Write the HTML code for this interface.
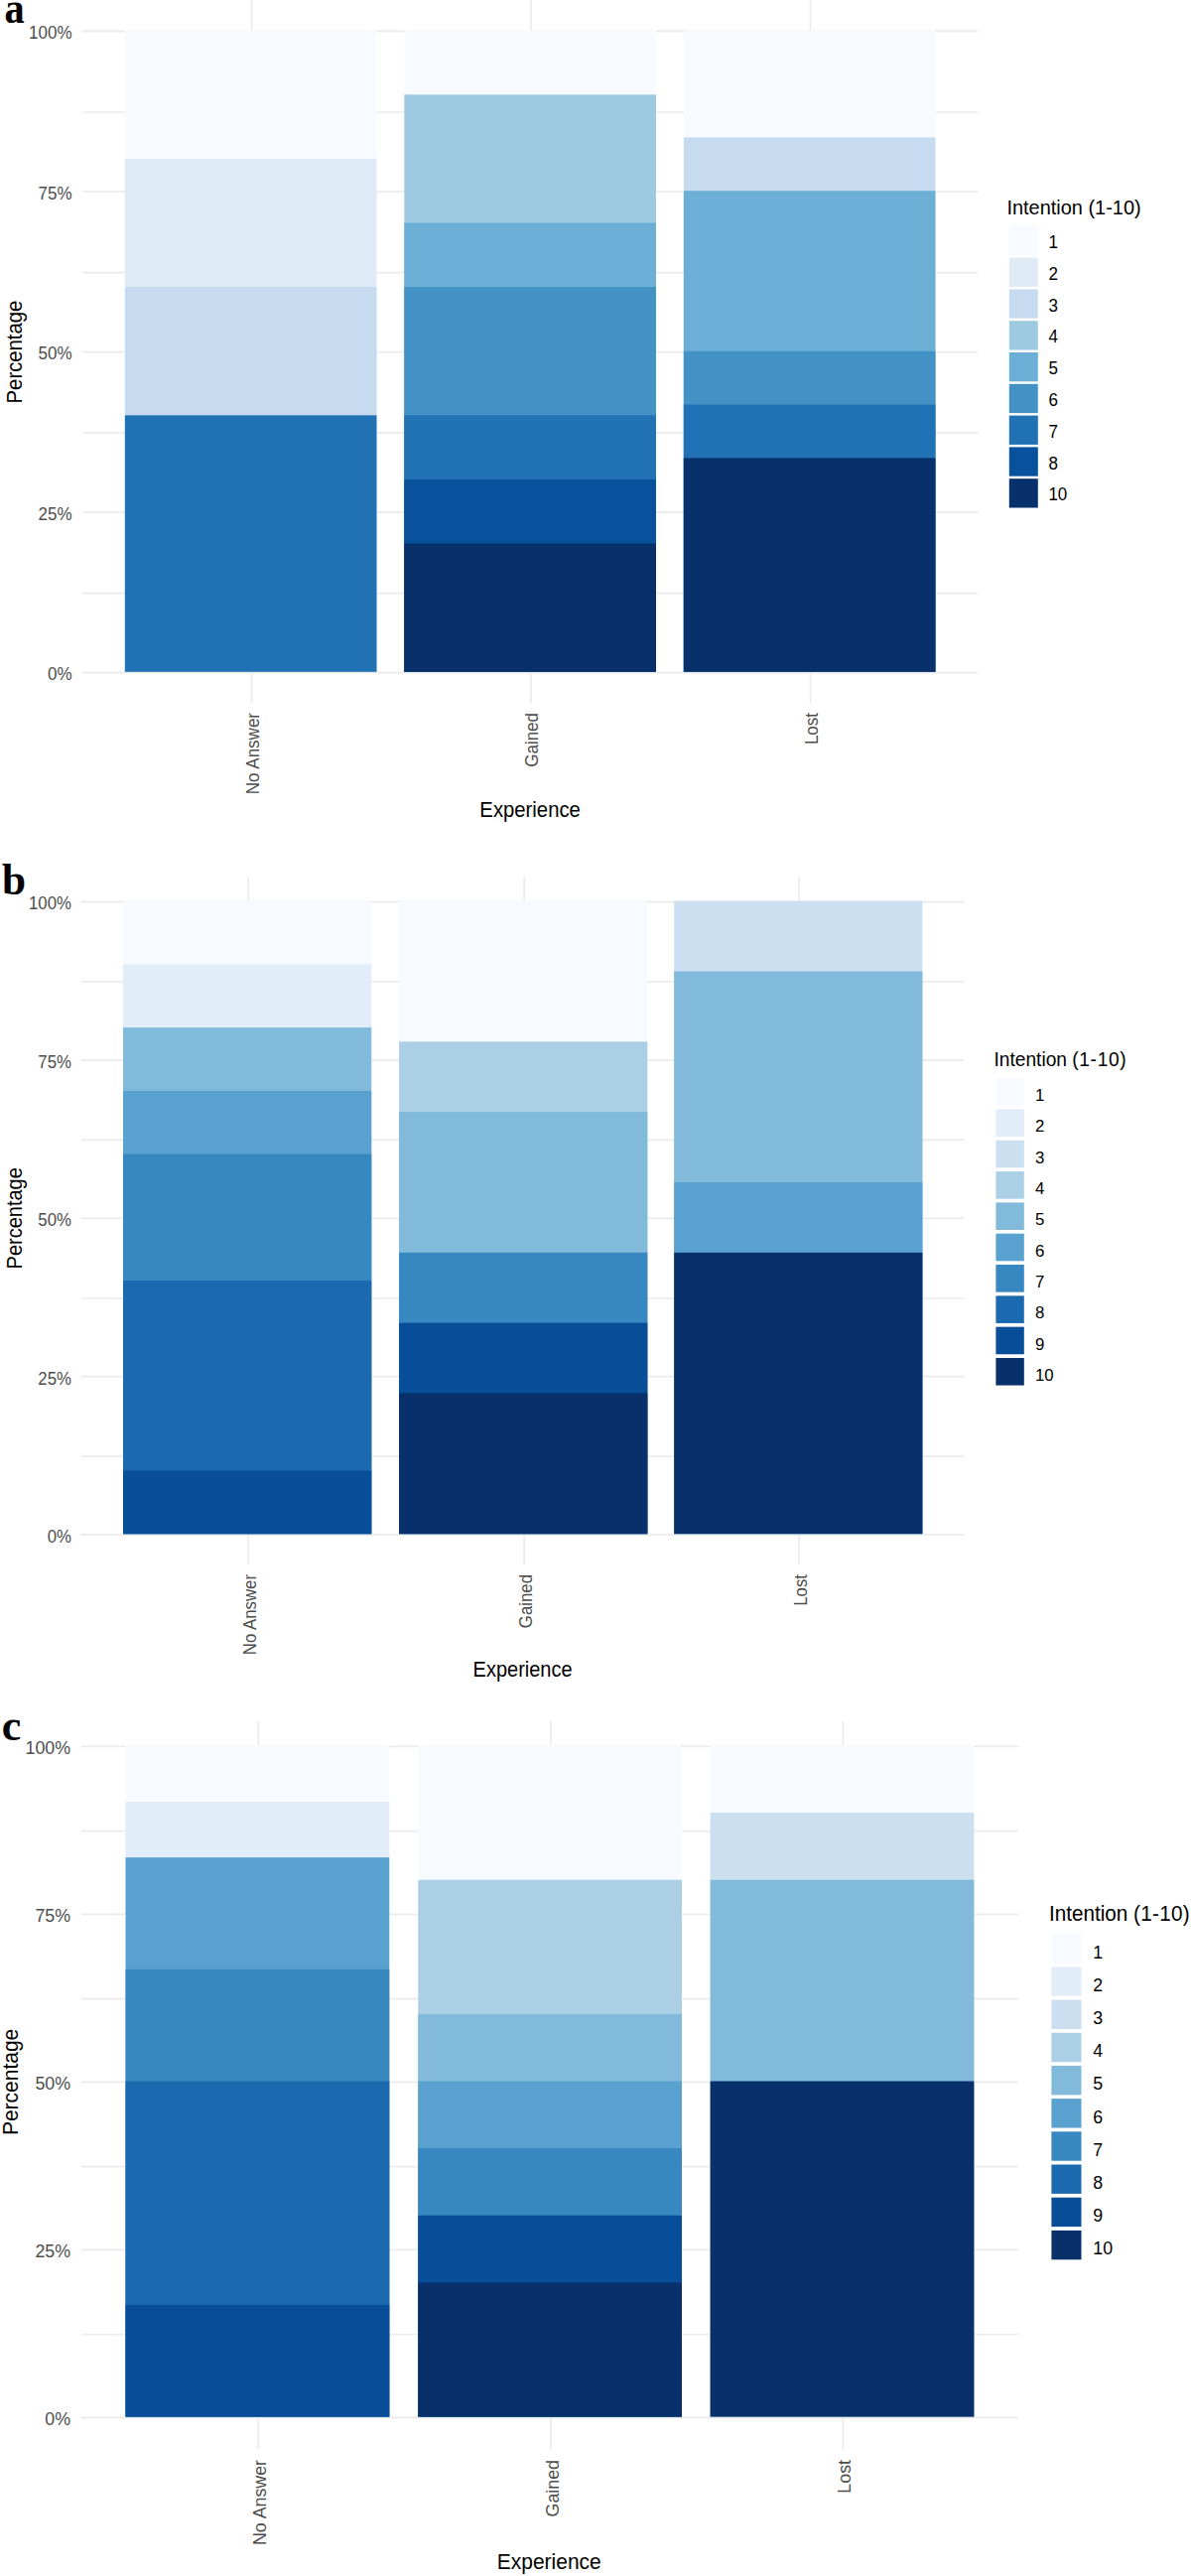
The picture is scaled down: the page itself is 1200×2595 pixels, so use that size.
<!DOCTYPE html>
<html><head><meta charset="utf-8"><title>Intention by Experience</title>
<style>
html,body{margin:0;padding:0;background:#fff;}
body{width:1200px;height:2595px;overflow:hidden;}
svg{display:block;font-family:"Liberation Sans",sans-serif;}
</style></head>
<body>
<svg width="1200" height="2595" viewBox="0 0 1200 2595">
<rect x="0" y="0" width="1200" height="2595" fill="#fff"/>
<line x1="83.1" y1="677.6" x2="985.1" y2="677.6" stroke="#ebebeb" stroke-width="1.8"/>
<line x1="83.1" y1="597.59" x2="985.1" y2="597.59" stroke="#ebebeb" stroke-width="1.7"/>
<line x1="83.1" y1="516.08" x2="985.1" y2="516.08" stroke="#ebebeb" stroke-width="1.8"/>
<line x1="83.1" y1="436.06" x2="985.1" y2="436.06" stroke="#ebebeb" stroke-width="1.7"/>
<line x1="83.1" y1="354.55" x2="985.1" y2="354.55" stroke="#ebebeb" stroke-width="1.8"/>
<line x1="83.1" y1="274.54" x2="985.1" y2="274.54" stroke="#ebebeb" stroke-width="1.7"/>
<line x1="83.1" y1="193.03" x2="985.1" y2="193.03" stroke="#ebebeb" stroke-width="1.8"/>
<line x1="83.1" y1="113.01" x2="985.1" y2="113.01" stroke="#ebebeb" stroke-width="1.7"/>
<line x1="83.1" y1="31.5" x2="985.1" y2="31.5" stroke="#ebebeb" stroke-width="1.8"/>
<line x1="253.5" y1="0" x2="253.5" y2="708.4" stroke="#ebebeb" stroke-width="1.7"/>
<line x1="535" y1="0" x2="535" y2="708.4" stroke="#ebebeb" stroke-width="1.7"/>
<line x1="816.5" y1="0" x2="816.5" y2="708.4" stroke="#ebebeb" stroke-width="1.7"/>
<rect x="125.85" y="30.7" width="253.6" height="646.1" fill="#F7FBFF"/>
<rect x="125.85" y="159.92" width="253.6" height="516.88" fill="#DEEBF7"/>
<rect x="125.85" y="289.14" width="253.6" height="387.66" fill="#C6DBEF"/>
<rect x="125.85" y="418.36" width="253.6" height="258.44" fill="#2171B5"/>
<rect x="407.35" y="30.7" width="253.6" height="646.1" fill="#F7FBFF"/>
<rect x="407.35" y="95.31" width="253.6" height="581.49" fill="#9ECAE1"/>
<rect x="407.35" y="224.53" width="253.6" height="452.27" fill="#6BAED6"/>
<rect x="407.35" y="289.14" width="253.6" height="387.66" fill="#4292C6"/>
<rect x="407.35" y="418.36" width="253.6" height="258.44" fill="#2171B5"/>
<rect x="407.35" y="482.97" width="253.6" height="193.83" fill="#08519C"/>
<rect x="407.35" y="547.58" width="253.6" height="129.22" fill="#08306B"/>
<rect x="688.85" y="30.7" width="253.6" height="646.1" fill="#F7FBFF"/>
<rect x="688.85" y="138.38" width="253.6" height="538.42" fill="#C6DBEF"/>
<rect x="688.85" y="192.23" width="253.6" height="484.58" fill="#6BAED6"/>
<rect x="688.85" y="353.75" width="253.6" height="323.05" fill="#4292C6"/>
<rect x="688.85" y="407.59" width="253.6" height="269.21" fill="#2171B5"/>
<rect x="688.85" y="461.43" width="253.6" height="215.37" fill="#08306B"/>
<text transform="translate(72.6 685.1) scale(1 1.08)" text-anchor="end" font-size="17.0" fill="#4d4d4d">0%</text>
<text transform="translate(72.6 523.58) scale(1 1.08)" text-anchor="end" font-size="17.0" fill="#4d4d4d">25%</text>
<text transform="translate(72.6 362.05) scale(1 1.08)" text-anchor="end" font-size="17.0" fill="#4d4d4d">50%</text>
<text transform="translate(72.6 200.53) scale(1 1.08)" text-anchor="end" font-size="17.0" fill="#4d4d4d">75%</text>
<text transform="translate(72.6 39) scale(1 1.08)" text-anchor="end" font-size="17.0" fill="#4d4d4d">100%</text>
<text transform="translate(260.9 718) rotate(-90) scale(1 1.05)" text-anchor="end" font-size="17.0" fill="#4d4d4d">No Answer</text>
<text transform="translate(542.4 718) rotate(-90) scale(1 1.05)" text-anchor="end" font-size="17.0" fill="#4d4d4d">Gained</text>
<text transform="translate(823.9 718) rotate(-90) scale(1 1.05)" text-anchor="end" font-size="17.0" fill="#4d4d4d">Lost</text>
<text transform="translate(534.1 822.6) scale(1 1.06)" text-anchor="middle" font-size="20.3" fill="#000">Experience</text>
<text transform="translate(22.3 354.55) rotate(-90) scale(1 1.06)" text-anchor="middle" font-size="20.3" fill="#000">Percentage</text>
<text transform="translate(1014.4 215.6) scale(1 1.06)" font-size="19.95" fill="#000">Intention <tspan letter-spacing="0">(1-10)</tspan></text>
<rect x="1016.8" y="227.8" width="29" height="29.3" fill="#F7FBFF"/>
<text transform="translate(1056.4 250.05) scale(1 1.03)" font-size="17.0" fill="#000">1</text>
<rect x="1016.8" y="259.6" width="29" height="29.3" fill="#DEEBF7"/>
<text transform="translate(1056.4 281.85) scale(1 1.03)" font-size="17.0" fill="#000">2</text>
<rect x="1016.8" y="291.4" width="29" height="29.3" fill="#C6DBEF"/>
<text transform="translate(1056.4 313.65) scale(1 1.03)" font-size="17.0" fill="#000">3</text>
<rect x="1016.8" y="323.2" width="29" height="29.3" fill="#9ECAE1"/>
<text transform="translate(1056.4 345.45) scale(1 1.03)" font-size="17.0" fill="#000">4</text>
<rect x="1016.8" y="355" width="29" height="29.3" fill="#6BAED6"/>
<text transform="translate(1056.4 377.25) scale(1 1.03)" font-size="17.0" fill="#000">5</text>
<rect x="1016.8" y="386.8" width="29" height="29.3" fill="#4292C6"/>
<text transform="translate(1056.4 409.05) scale(1 1.03)" font-size="17.0" fill="#000">6</text>
<rect x="1016.8" y="418.6" width="29" height="29.3" fill="#2171B5"/>
<text transform="translate(1056.4 440.85) scale(1 1.03)" font-size="17.0" fill="#000">7</text>
<rect x="1016.8" y="450.4" width="29" height="29.3" fill="#08519C"/>
<text transform="translate(1056.4 472.65) scale(1 1.03)" font-size="17.0" fill="#000">8</text>
<rect x="1016.8" y="482.2" width="29" height="29.3" fill="#08306B"/>
<text transform="translate(1056.4 504.45) scale(1 1.03)" font-size="17.0" fill="#000">10</text>
<text transform="translate(4.5 23.3) scale(0.93 1.0)" font-family="Liberation Serif, serif" font-weight="bold" font-size="43.5" fill="#000">a</text>
<line x1="81.8" y1="1546.1" x2="971.4" y2="1546.1" stroke="#ebebeb" stroke-width="1.8"/>
<line x1="81.8" y1="1467.15" x2="971.4" y2="1467.15" stroke="#ebebeb" stroke-width="1.7"/>
<line x1="81.8" y1="1386.7" x2="971.4" y2="1386.7" stroke="#ebebeb" stroke-width="1.8"/>
<line x1="81.8" y1="1307.75" x2="971.4" y2="1307.75" stroke="#ebebeb" stroke-width="1.7"/>
<line x1="81.8" y1="1227.3" x2="971.4" y2="1227.3" stroke="#ebebeb" stroke-width="1.8"/>
<line x1="81.8" y1="1148.35" x2="971.4" y2="1148.35" stroke="#ebebeb" stroke-width="1.7"/>
<line x1="81.8" y1="1067.9" x2="971.4" y2="1067.9" stroke="#ebebeb" stroke-width="1.8"/>
<line x1="81.8" y1="988.95" x2="971.4" y2="988.95" stroke="#ebebeb" stroke-width="1.7"/>
<line x1="81.8" y1="908.5" x2="971.4" y2="908.5" stroke="#ebebeb" stroke-width="1.8"/>
<line x1="250" y1="882.8" x2="250" y2="1576" stroke="#ebebeb" stroke-width="1.7"/>
<line x1="528.1" y1="882.8" x2="528.1" y2="1576" stroke="#ebebeb" stroke-width="1.7"/>
<line x1="805.2" y1="882.8" x2="805.2" y2="1576" stroke="#ebebeb" stroke-width="1.7"/>
<rect x="124" y="907.6" width="250.2" height="637.6" fill="#F7FBFF"/>
<rect x="124" y="971.36" width="250.2" height="573.84" fill="#E1EDF8"/>
<rect x="124" y="1035.12" width="250.2" height="510.08" fill="#82BADB"/>
<rect x="124" y="1098.88" width="250.2" height="446.32" fill="#59A2CF"/>
<rect x="124" y="1162.64" width="250.2" height="382.56" fill="#3787C0"/>
<rect x="124" y="1290.16" width="250.2" height="255.04" fill="#1B6AAF"/>
<rect x="124" y="1481.44" width="250.2" height="63.76" fill="#084D97"/>
<rect x="402.1" y="907.6" width="250.2" height="637.6" fill="#F7FBFF"/>
<rect x="402.1" y="1049.29" width="250.2" height="495.91" fill="#ABD0E6"/>
<rect x="402.1" y="1120.13" width="250.2" height="425.07" fill="#82BADB"/>
<rect x="402.1" y="1261.82" width="250.2" height="283.38" fill="#3787C0"/>
<rect x="402.1" y="1332.67" width="250.2" height="212.53" fill="#084D97"/>
<rect x="402.1" y="1403.51" width="250.2" height="141.69" fill="#08306B"/>
<rect x="679.2" y="907.6" width="250.2" height="637.6" fill="#CBDFF1"/>
<rect x="679.2" y="978.44" width="250.2" height="566.76" fill="#82BADB"/>
<rect x="679.2" y="1190.98" width="250.2" height="354.22" fill="#59A2CF"/>
<rect x="679.2" y="1261.82" width="250.2" height="283.38" fill="#08306B"/>
<text transform="translate(71.9 1554) scale(1 1.08)" text-anchor="end" font-size="16.8" fill="#4d4d4d">0%</text>
<text transform="translate(71.9 1394.6) scale(1 1.08)" text-anchor="end" font-size="16.8" fill="#4d4d4d">25%</text>
<text transform="translate(71.9 1235.2) scale(1 1.08)" text-anchor="end" font-size="16.8" fill="#4d4d4d">50%</text>
<text transform="translate(71.9 1075.8) scale(1 1.08)" text-anchor="end" font-size="16.8" fill="#4d4d4d">75%</text>
<text transform="translate(71.9 916.4) scale(1 1.08)" text-anchor="end" font-size="16.8" fill="#4d4d4d">100%</text>
<text transform="translate(257.9 1586) rotate(-90) scale(1 1.05)" text-anchor="end" font-size="16.8" fill="#4d4d4d">No Answer</text>
<text transform="translate(536 1586) rotate(-90) scale(1 1.05)" text-anchor="end" font-size="16.8" fill="#4d4d4d">Gained</text>
<text transform="translate(813.1 1586) rotate(-90) scale(1 1.05)" text-anchor="end" font-size="16.8" fill="#4d4d4d">Lost</text>
<text transform="translate(526.6 1689.4) scale(1 1.06)" text-anchor="middle" font-size="20.0" fill="#000">Experience</text>
<text transform="translate(21.5 1227.3) rotate(-90) scale(1 1.06)" text-anchor="middle" font-size="20.0" fill="#000">Percentage</text>
<text transform="translate(1001.4 1074.1) scale(1 1.06)" font-size="19.2" fill="#000">Intention <tspan letter-spacing="0.62">(1-10)</tspan></text>
<rect x="1003.4" y="1086.1" width="28.4" height="27.6" fill="#F7FBFF"/>
<text transform="translate(1043 1109.05) scale(1 1.03)" font-size="16.8" fill="#000">1</text>
<rect x="1003.4" y="1117.42" width="28.4" height="27.6" fill="#E1EDF8"/>
<text transform="translate(1043 1140.37) scale(1 1.03)" font-size="16.8" fill="#000">2</text>
<rect x="1003.4" y="1148.74" width="28.4" height="27.6" fill="#CBDFF1"/>
<text transform="translate(1043 1171.69) scale(1 1.03)" font-size="16.8" fill="#000">3</text>
<rect x="1003.4" y="1180.06" width="28.4" height="27.6" fill="#ABD0E6"/>
<text transform="translate(1043 1203.01) scale(1 1.03)" font-size="16.8" fill="#000">4</text>
<rect x="1003.4" y="1211.38" width="28.4" height="27.6" fill="#82BADB"/>
<text transform="translate(1043 1234.33) scale(1 1.03)" font-size="16.8" fill="#000">5</text>
<rect x="1003.4" y="1242.7" width="28.4" height="27.6" fill="#59A2CF"/>
<text transform="translate(1043 1265.65) scale(1 1.03)" font-size="16.8" fill="#000">6</text>
<rect x="1003.4" y="1274.02" width="28.4" height="27.6" fill="#3787C0"/>
<text transform="translate(1043 1296.97) scale(1 1.03)" font-size="16.8" fill="#000">7</text>
<rect x="1003.4" y="1305.34" width="28.4" height="27.6" fill="#1B6AAF"/>
<text transform="translate(1043 1328.29) scale(1 1.03)" font-size="16.8" fill="#000">8</text>
<rect x="1003.4" y="1336.66" width="28.4" height="27.6" fill="#084D97"/>
<text transform="translate(1043 1359.61) scale(1 1.03)" font-size="16.8" fill="#000">9</text>
<rect x="1003.4" y="1367.98" width="28.4" height="27.6" fill="#08306B"/>
<text transform="translate(1043 1390.93) scale(1 1.03)" font-size="16.8" fill="#000">10</text>
<text transform="translate(2 900.6) scale(1.0 1.045)" font-family="Liberation Serif, serif" font-weight="bold" font-size="43.3" fill="#000">b</text>
<line x1="82" y1="2435.5" x2="1026.1" y2="2435.5" stroke="#ebebeb" stroke-width="1.8"/>
<line x1="82" y1="2351.74" x2="1026.1" y2="2351.74" stroke="#ebebeb" stroke-width="1.7"/>
<line x1="82" y1="2266.47" x2="1026.1" y2="2266.47" stroke="#ebebeb" stroke-width="1.8"/>
<line x1="82" y1="2182.71" x2="1026.1" y2="2182.71" stroke="#ebebeb" stroke-width="1.7"/>
<line x1="82" y1="2097.45" x2="1026.1" y2="2097.45" stroke="#ebebeb" stroke-width="1.8"/>
<line x1="82" y1="2013.69" x2="1026.1" y2="2013.69" stroke="#ebebeb" stroke-width="1.7"/>
<line x1="82" y1="1928.43" x2="1026.1" y2="1928.43" stroke="#ebebeb" stroke-width="1.8"/>
<line x1="82" y1="1844.66" x2="1026.1" y2="1844.66" stroke="#ebebeb" stroke-width="1.7"/>
<line x1="82" y1="1759.4" x2="1026.1" y2="1759.4" stroke="#ebebeb" stroke-width="1.8"/>
<line x1="260.3" y1="1733.6" x2="260.3" y2="2467.3" stroke="#ebebeb" stroke-width="1.7"/>
<line x1="555.05" y1="1733.6" x2="555.05" y2="2467.3" stroke="#ebebeb" stroke-width="1.7"/>
<line x1="849.4" y1="1733.6" x2="849.4" y2="2467.3" stroke="#ebebeb" stroke-width="1.7"/>
<rect x="126.55" y="1758.5" width="265.7" height="676.1" fill="#F7FBFF"/>
<rect x="126.55" y="1814.84" width="265.7" height="619.76" fill="#E1EDF8"/>
<rect x="126.55" y="1871.18" width="265.7" height="563.42" fill="#59A2CF"/>
<rect x="126.55" y="1983.87" width="265.7" height="450.73" fill="#3787C0"/>
<rect x="126.55" y="2096.55" width="265.7" height="338.05" fill="#1B6AAF"/>
<rect x="126.55" y="2321.92" width="265.7" height="112.68" fill="#084D97"/>
<rect x="421.3" y="1758.5" width="265.7" height="676.1" fill="#F7FBFF"/>
<rect x="421.3" y="1893.72" width="265.7" height="540.88" fill="#ABD0E6"/>
<rect x="421.3" y="2028.94" width="265.7" height="405.66" fill="#82BADB"/>
<rect x="421.3" y="2096.55" width="265.7" height="338.05" fill="#59A2CF"/>
<rect x="421.3" y="2164.16" width="265.7" height="270.44" fill="#3787C0"/>
<rect x="421.3" y="2231.77" width="265.7" height="202.83" fill="#084D97"/>
<rect x="421.3" y="2299.38" width="265.7" height="135.22" fill="#08306B"/>
<rect x="715.65" y="1758.5" width="265.7" height="676.1" fill="#F7FBFF"/>
<rect x="715.65" y="1826.11" width="265.7" height="608.49" fill="#CBDFF1"/>
<rect x="715.65" y="1893.72" width="265.7" height="540.88" fill="#82BADB"/>
<rect x="715.65" y="2096.55" width="265.7" height="338.05" fill="#08306B"/>
<text transform="translate(71 2443.3) scale(1 1.08)" text-anchor="end" font-size="17.8" fill="#4d4d4d">0%</text>
<text transform="translate(71 2274.28) scale(1 1.08)" text-anchor="end" font-size="17.8" fill="#4d4d4d">25%</text>
<text transform="translate(71 2105.25) scale(1 1.08)" text-anchor="end" font-size="17.8" fill="#4d4d4d">50%</text>
<text transform="translate(71 1936.23) scale(1 1.08)" text-anchor="end" font-size="17.8" fill="#4d4d4d">75%</text>
<text transform="translate(71 1767.2) scale(1 1.08)" text-anchor="end" font-size="17.8" fill="#4d4d4d">100%</text>
<text transform="translate(268.3 2478) rotate(-90) scale(1 1.05)" text-anchor="end" font-size="17.8" fill="#4d4d4d">No Answer</text>
<text transform="translate(563.05 2478) rotate(-90) scale(1 1.05)" text-anchor="end" font-size="17.8" fill="#4d4d4d">Gained</text>
<text transform="translate(857.4 2478) rotate(-90) scale(1 1.05)" text-anchor="end" font-size="17.8" fill="#4d4d4d">Lost</text>
<text transform="translate(553.25 2587.7) scale(1 1.06)" text-anchor="middle" font-size="21.0" fill="#000">Experience</text>
<text transform="translate(18.3 2097.45) rotate(-90) scale(1 1.06)" text-anchor="middle" font-size="21.0" fill="#000">Percentage</text>
<text transform="translate(1056.9 1934.9) scale(1 1.06)" font-size="20.7" fill="#000">Intention <tspan letter-spacing="0.26">(1-10)</tspan></text>
<rect x="1059.4" y="1948.2" width="30.1" height="29.4" fill="#F7FBFF"/>
<text transform="translate(1101.3 1972.65) scale(1 1.03)" font-size="17.8" fill="#000">1</text>
<rect x="1059.4" y="1981.39" width="30.1" height="29.4" fill="#E1EDF8"/>
<text transform="translate(1101.3 2005.84) scale(1 1.03)" font-size="17.8" fill="#000">2</text>
<rect x="1059.4" y="2014.58" width="30.1" height="29.4" fill="#CBDFF1"/>
<text transform="translate(1101.3 2039.03) scale(1 1.03)" font-size="17.8" fill="#000">3</text>
<rect x="1059.4" y="2047.77" width="30.1" height="29.4" fill="#ABD0E6"/>
<text transform="translate(1101.3 2072.22) scale(1 1.03)" font-size="17.8" fill="#000">4</text>
<rect x="1059.4" y="2080.96" width="30.1" height="29.4" fill="#82BADB"/>
<text transform="translate(1101.3 2105.41) scale(1 1.03)" font-size="17.8" fill="#000">5</text>
<rect x="1059.4" y="2114.15" width="30.1" height="29.4" fill="#59A2CF"/>
<text transform="translate(1101.3 2138.6) scale(1 1.03)" font-size="17.8" fill="#000">6</text>
<rect x="1059.4" y="2147.34" width="30.1" height="29.4" fill="#3787C0"/>
<text transform="translate(1101.3 2171.79) scale(1 1.03)" font-size="17.8" fill="#000">7</text>
<rect x="1059.4" y="2180.53" width="30.1" height="29.4" fill="#1B6AAF"/>
<text transform="translate(1101.3 2204.98) scale(1 1.03)" font-size="17.8" fill="#000">8</text>
<rect x="1059.4" y="2213.72" width="30.1" height="29.4" fill="#084D97"/>
<text transform="translate(1101.3 2238.17) scale(1 1.03)" font-size="17.8" fill="#000">9</text>
<rect x="1059.4" y="2246.91" width="30.1" height="29.4" fill="#08306B"/>
<text transform="translate(1101.3 2271.36) scale(1 1.03)" font-size="17.8" fill="#000">10</text>
<text transform="translate(1.8 1752.8) scale(1.0 1.02)" font-family="Liberation Serif, serif" font-weight="bold" font-size="44" fill="#000">c</text>
</svg>
</body></html>
